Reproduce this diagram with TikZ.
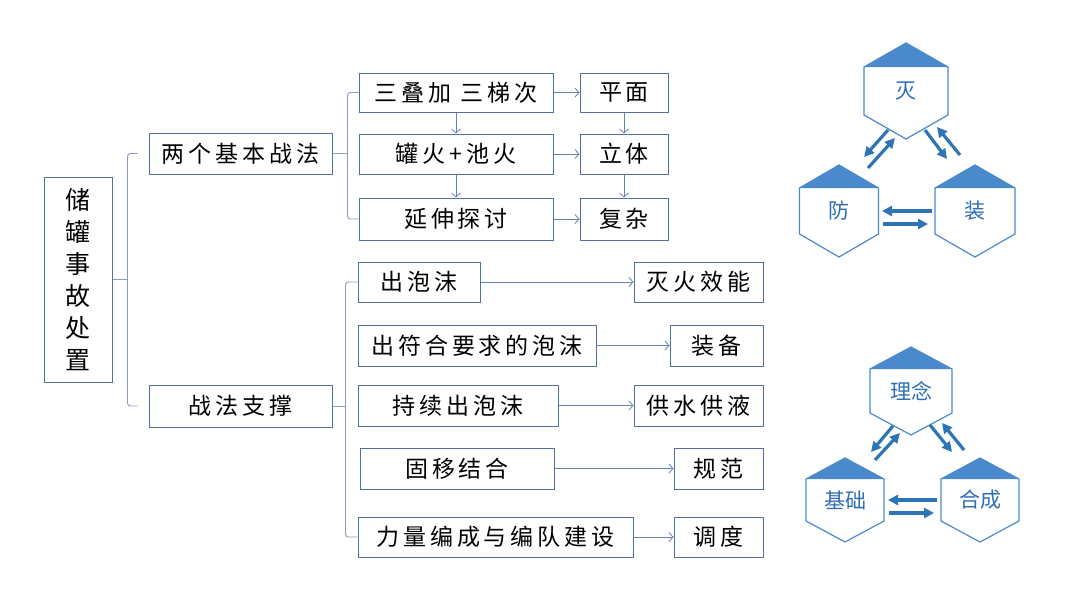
\documentclass[tikz,border=0pt]{standalone}
\usepackage{fontspec}
\setmainfont{Noto Sans CJK SC}
\newfontfamily\boxfont{Noto Sans CJK SC}[LetterSpace=17]
\newfontfamily\hexfont{Noto Sans CJK SC}
\usetikzlibrary{arrows.meta,calc}
\definecolor{boxline}{RGB}{84,110,168}
\definecolor{bracec}{RGB}{140,155,190}
\definecolor{arrowc}{RGB}{105,130,180}
\definecolor{hexblue}{RGB}{74,137,203}
\definecolor{hextxt}{RGB}{46,110,180}
\definecolor{harrowc}{RGB}{46,117,182}
\newcommand\hexshape[3]{%
  \fill[hexblue] ($(#1)+(-#2,-#3/2)$) -- ($(#1)+(0,-#3)$) -- ($(#1)+(#2,-#3/2)$) -- cycle;
  \draw[hexblue,line width=1.2pt,line join=miter] ($(#1)+(0,-#3)$) -- ($(#1)+(#2,-#3/2)$) -- ($(#1)+(#2,#3/2)$) -- ($(#1)+(0,#3)$) -- ($(#1)+(-#2,#3/2)$) -- ($(#1)+(-#2,-#3/2)$) -- cycle;}
\begin{document}
\begin{tikzpicture}[x=1pt,y=-1pt,
  box/.style={draw=boxline, line width=1pt, inner sep=0pt, font=\boxfont\fontsize{23pt}{27pt}\selectfont},
  rootbox/.style={draw=boxline, line width=1pt, inner sep=0pt, align=center, font=\fontsize{25pt}{32pt}\selectfont},
  brace/.style={draw=bracec, line width=0.9pt, rounded corners=3pt},
  tarrow/.style={draw=arrowc, line width=0.8pt, -{Straight Barb[length=4pt,width=9pt]}},
  hexnode/.style={inner sep=0pt, text=hextxt, font=\hexfont\fontsize{21pt}{24pt}\selectfont},
  harrow/.style={draw=harrowc, line width=3.2pt, -{Triangle[length=10pt,width=10pt]}}]
\useasboundingbox (0,0) rectangle (1080,608);
\fill[white] (0,0) rectangle (1080,608);

% left tree
\node[rootbox, minimum width=68pt, minimum height=205pt] (root) at (78,279.5) {储\\罐\\事\\故\\处\\置};
\node[box, minimum width=183pt, minimum height=41pt] (a) at (240.5,153.5) {两个基本战法};
\node[box, minimum width=183pt, minimum height=42pt] (b) at (240.5,406) {战法支撑};

\node[box, minimum width=194pt, minimum height=39pt] (a1) at (456,92.5) {三叠加 三梯次};
\node[box, minimum width=194pt, minimum height=40pt] (a2) at (456,154) {罐火+池火};
\node[box, minimum width=194pt, minimum height=42pt] (a3) at (456,219) {延伸探讨};
\node[box, minimum width=88pt, minimum height=39pt] (p1) at (624,92.5) {平面};
\node[box, minimum width=88pt, minimum height=40pt] (p2) at (624,154) {立体};
\node[box, minimum width=88pt, minimum height=42pt] (p3) at (624,219) {复杂};

\node[box, minimum width=122pt, minimum height=40pt] (b1) at (419,282) {出泡沫};
\node[box, minimum width=238pt, minimum height=41pt] (b2) at (477,345.5) {出符合要求的泡沫};
\node[box, minimum width=200pt, minimum height=41pt] (b3) at (458,405.5) {持续出泡沫};
\node[box, minimum width=194pt, minimum height=41pt] (b4) at (457,468.5) {固移结合};
\node[box, minimum width=275pt, minimum height=40pt] (b5) at (495.5,537) {力量编成与编队建设};
\node[box, minimum width=129pt, minimum height=40pt] (c1) at (698.5,282) {灭火效能};
\node[box, minimum width=93pt, minimum height=41pt] (c2) at (716.5,345.5) {装备};
\node[box, minimum width=129pt, minimum height=41pt] (c3) at (698.5,405.5) {供水供液};
\node[box, minimum width=89pt, minimum height=41pt] (c4) at (718.5,468.5) {规范};
\node[box, minimum width=89pt, minimum height=40pt] (c5) at (718.5,537) {调度};

% braces
\draw[brace] ([xshift=-11pt]a.west) -| ([xshift=15pt]root.east) |- ([xshift=-11pt]b.west);
\draw[brace] (root.east) -- ([xshift=15pt]root.east);
\draw[brace] (a1.west) -| ([xshift=15pt]a.east) |- (a3.west);
\draw[brace] (a.east) -- ([xshift=15pt]a.east);
\draw[brace] (b1.west) -| ([xshift=13pt]b.east) |- (b5.west);
\draw[brace] (b.east) -- ([xshift=13pt]b.east);

% thin arrows
\draw[tarrow] (a1) -- (p1);
\draw[tarrow] (a2) -- (p2);
\draw[tarrow] (a3) -- (p3);
\draw[tarrow] (a1.south) -- (a2.north);
\draw[tarrow] (a2.south) -- (a3.north);
\draw[tarrow] (p1.south) -- (p2.north);
\draw[tarrow] (p2.south) -- (p3.north);
\draw[tarrow] (b1) -- (c1);
\draw[tarrow] (b2) -- (c2);
\draw[tarrow] (b3) -- (c3);
\draw[tarrow] (b4) -- (c4);
\draw[tarrow] (b5) -- (c5);

% hexagon group 1
\node[hexnode] (mie) at (906,91) {灭};
\node[hexnode] (fang) at (839,211) {防};
\node[hexnode] (zhuang) at (975,211) {装};
\hexshape{mie}{42}{48}
\hexshape{fang}{39.5}{46}
\hexshape{zhuang}{40}{46}
\draw[harrow] ([shift={(-18,39)}]mie.center) -- ([shift={(-42,66)}]mie.center);
\draw[harrow] ([shift={(-38,77)}]mie.center) -- ([shift={(-11,47)}]mie.center);
\draw[harrow] ([shift={(19,39)}]mie.center) -- ([shift={(41,68)}]mie.center);
\draw[harrow] ([shift={(54,64)}]mie.center) -- ([shift={(31,36)}]mie.center);
\draw[harrow] ([shift={(93,0)}]fang.center) -- ([shift={(43,0)}]fang.center);
\draw[harrow] ([shift={(44,13)}]fang.center) -- ([shift={(89,13)}]fang.center);

% hexagon group 2
\node[hexnode] (linian) at (911,391) {理念};
\node[hexnode] (jichu) at (845,500) {基础};
\node[hexnode] (hecheng) at (980,500) {合成};
\hexshape{linian}{41}{44}
\hexshape{jichu}{39}{42}
\hexshape{hecheng}{39}{42}
\draw[harrow] ([shift={(-18,35)}]linian.center) -- ([shift={(-40,61)}]linian.center);
\draw[harrow] ([shift={(-36,69)}]linian.center) -- ([shift={(-11,42)}]linian.center);
\draw[harrow] ([shift={(19,34)}]linian.center) -- ([shift={(41,61)}]linian.center);
\draw[harrow] ([shift={(53,59)}]linian.center) -- ([shift={(31,32)}]linian.center);
\draw[harrow] ([shift={(92,0)}]jichu.center) -- ([shift={(43,0)}]jichu.center);
\draw[harrow] ([shift={(44,13)}]jichu.center) -- ([shift={(89,13)}]jichu.center);
\end{tikzpicture}
\end{document}
